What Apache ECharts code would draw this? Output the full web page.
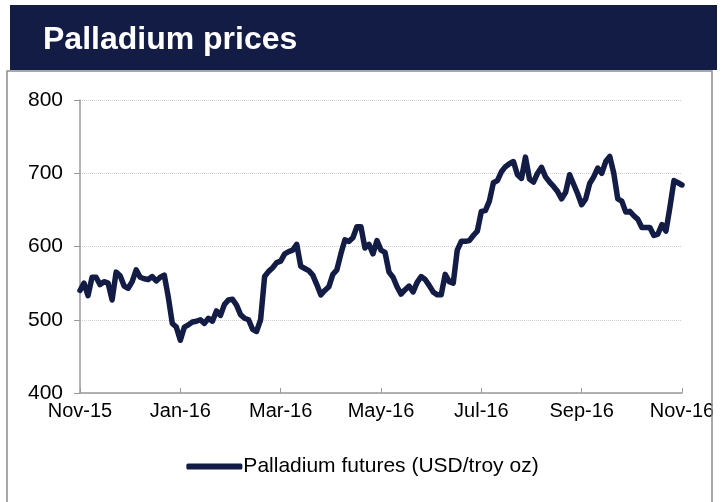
<!DOCTYPE html>
<html>
<head>
<meta charset="utf-8">
<script src="https://cdn.jsdelivr.net/npm/echarts@6/dist/echarts.min.js"></script>
<style>
	html, body { margin: 0; padding: 0; background: #fff; }
	#chart { width: 725px; height: 502px; }
</style>
</head>
<body>
<div id="chart"></div>
<script>
	'use strict';

	// month labels, one every 25 points (about two months)
	var tickLabels = ['Nov-15', 'Jan-16', 'Mar-16', 'May-16', 'Jul-16', 'Sep-16', 'Nov-16'];
	var pointsPerLabel = 25;

	// palladium futures, USD/troy oz
	var palladium = [
		540, 550, 533, 558, 558, 548, 552, 550, 527, 565,
		560, 546, 543, 552, 568, 558, 556, 555, 559, 553,
		558, 561, 531, 495, 490, 472, 490, 493, 497, 498,
		500, 495, 502, 498, 512, 506, 521, 527, 528, 520,
		507, 502, 500, 487, 484, 500, 559, 566, 571, 578,
		580, 590, 593, 595, 603, 573, 570, 567, 561, 548,
		534, 540, 545, 562, 568, 590, 609, 607, 612, 627,
		627, 598, 603, 590, 608, 595, 592, 565, 558, 545,
		535, 541, 546, 538, 551, 559, 555, 547, 538, 534,
		534, 562, 552, 550, 595, 607, 607, 608, 615, 621,
		648, 649, 662, 687, 690, 702, 709, 713, 716, 698,
		693, 722, 692, 688, 700, 708, 695, 688, 682, 675,
		665, 674, 698, 685, 672, 657, 665, 686, 695, 707,
		700, 716, 723, 700, 665, 662, 647, 648, 642, 637,
		626, 626, 626, 615, 617, 630, 621, 654, 690, 687,
		684
	];

	var categories = palladium.map(function(v, i) { return i; });

	var navy = '#131c44';
	var font = 'Liberation Sans, Arial, sans-serif';

	var chart = echarts.init(document.getElementById('chart'));
	var option = {
		animation: false,
		backgroundColor: '#fff',
		title: {
			text: 'Palladium prices',
			left: 38,
			top: 19,
			z: 10,
			textStyle: {
				color: '#fff',
				fontSize: 32,
				fontWeight: 'bold',
				fontFamily: font
			}
		},
		graphic: [{
			type: 'rect',
			z: 0,
			shape: { x: 10, y: 5, width: 707, height: 65 },
			style: { fill: navy }
		}, {
			type: 'rect',
			z: 100,
			shape: { x: 713, y: 71, width: 12, height: 431 },
			style: { fill: '#fff' }
		}, {
			type: 'polyline',
			z: 101,
			shape: { points: [[7, 510], [7, 71], [712, 71], [712, 510]] },
			style: { stroke: '#8c8c8c', lineWidth: 1.5, fill: null }
		}],
		grid: {
			left: 80,
			right: 43,
			top: 100,
			bottom: 109
		},
		legend: {
			bottom: 20,
			left: 'center',
			icon: 'roundRect',
			itemWidth: 56,
			itemHeight: 6,
			textStyle: {
				color: '#000',
				fontSize: 21,
				fontFamily: font,
				padding: [0, 0, 0, -4]
			},
			data: ['Palladium futures (USD/troy oz)']
		},
		xAxis: {
			type: 'category',
			data: categories,
			boundaryGap: false,
			axisLine: { lineStyle: { color: '#999', width: 1.5 } },
			axisTick: {
				inside: true,
				length: 5,
				interval: function(idx) { return idx % pointsPerLabel === 0; },
				lineStyle: { color: '#999' }
			},
			axisLabel: {
				interval: function(idx) { return idx % pointsPerLabel === 0; },
				formatter: function(v, idx) { return tickLabels[idx / pointsPerLabel]; },
				color: '#000',
				fontSize: 20,
				fontFamily: font,
				margin: 8
			},
			splitLine: { show: false }
		},
		yAxis: {
			type: 'value',
			min: 400,
			max: 800,
			interval: 100,
			axisLine: { show: true, lineStyle: { color: '#999', width: 1.5 } },
			axisTick: { show: true, length: 6, lineStyle: { color: '#999' } },
			axisLabel: {
				color: '#000',
				fontSize: 21,
				fontFamily: font,
				margin: 17
			},
			splitLine: {
				lineStyle: { color: '#cfcfcf', type: 'dotted', width: 1 }
			}
		},
		series: [{
			name: 'Palladium futures (USD/troy oz)',
			type: 'line',
			data: palladium,
			showSymbol: false,
			symbol: 'none',
			lineStyle: { color: navy, width: 5.5, cap: 'round', join: 'round' },
			itemStyle: { color: navy }
		}]
	};
	chart.setOption(option);
</script>
</body>
</html>
